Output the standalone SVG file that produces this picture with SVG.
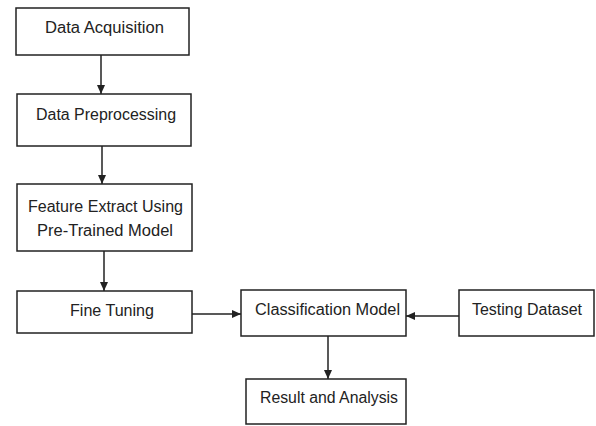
<svg xmlns="http://www.w3.org/2000/svg" width="596" height="426" viewBox="0 0 596 426">
<style>
.box{fill:#fff;stroke:#222;stroke-width:1.5}
.lbl{font-family:"Liberation Sans",Arial,sans-serif;font-size:16px;fill:#222}
.edge{stroke:#222;stroke-width:1.5;fill:none;marker-end:url(#ah)}
</style>
<defs>
<marker id="ah" markerWidth="10" markerHeight="10" refX="9" refY="5" orient="auto" markerUnits="userSpaceOnUse">
<path d="M0,1 L9,5 L0,9 Z" fill="#222"/>
</marker>
</defs>
<rect width="596" height="426" fill="#fff"/>
<g id="connectors">
<line class="edge" x1="101" y1="55" x2="101" y2="94"/>
<line class="edge" x1="102" y1="146" x2="102" y2="184"/>
<line class="edge" x1="104" y1="251" x2="104" y2="291"/>
<line class="edge" x1="192" y1="314" x2="241" y2="314"/>
<line class="edge" x1="459" y1="316" x2="406" y2="316"/>
<line class="edge" x1="328" y1="336" x2="328" y2="379"/>
</g>
<g id="data-acquisition">
<rect class="box" x="16" y="8" width="173" height="47"/>
<text class="lbl" x="45" y="33" textLength="119" lengthAdjust="spacingAndGlyphs">Data Acquisition</text>
</g>
<g id="data-preprocessing">
<rect class="box" x="17" y="94" width="174" height="52"/>
<text class="lbl" x="36" y="120" textLength="140" lengthAdjust="spacingAndGlyphs">Data Preprocessing</text>
</g>
<g id="feature-extract">
<rect class="box" x="17" y="184" width="175" height="67"/>
<text class="lbl" x="28" y="212" textLength="155" lengthAdjust="spacingAndGlyphs">Feature Extract Using</text>
<text class="lbl" x="37" y="236" textLength="136" lengthAdjust="spacingAndGlyphs">Pre-Trained Model</text>
</g>
<g id="fine-tuning">
<rect class="box" x="17" y="291" width="175" height="42"/>
<text class="lbl" x="70" y="316" textLength="84" lengthAdjust="spacingAndGlyphs">Fine Tuning</text>
</g>
<g id="classification-model">
<rect class="box" x="241" y="290" width="165" height="46"/>
<text class="lbl" x="255" y="315" textLength="145" lengthAdjust="spacingAndGlyphs">Classification Model</text>
</g>
<g id="testing-dataset">
<rect class="box" x="459" y="290" width="135" height="46"/>
<text class="lbl" x="472" y="315" textLength="110" lengthAdjust="spacingAndGlyphs">Testing Dataset</text>
</g>
<g id="result-analysis">
<rect class="box" x="246" y="379" width="160" height="45"/>
<text class="lbl" x="260" y="403" textLength="138" lengthAdjust="spacingAndGlyphs">Result and Analysis</text>
</g>
</svg>
